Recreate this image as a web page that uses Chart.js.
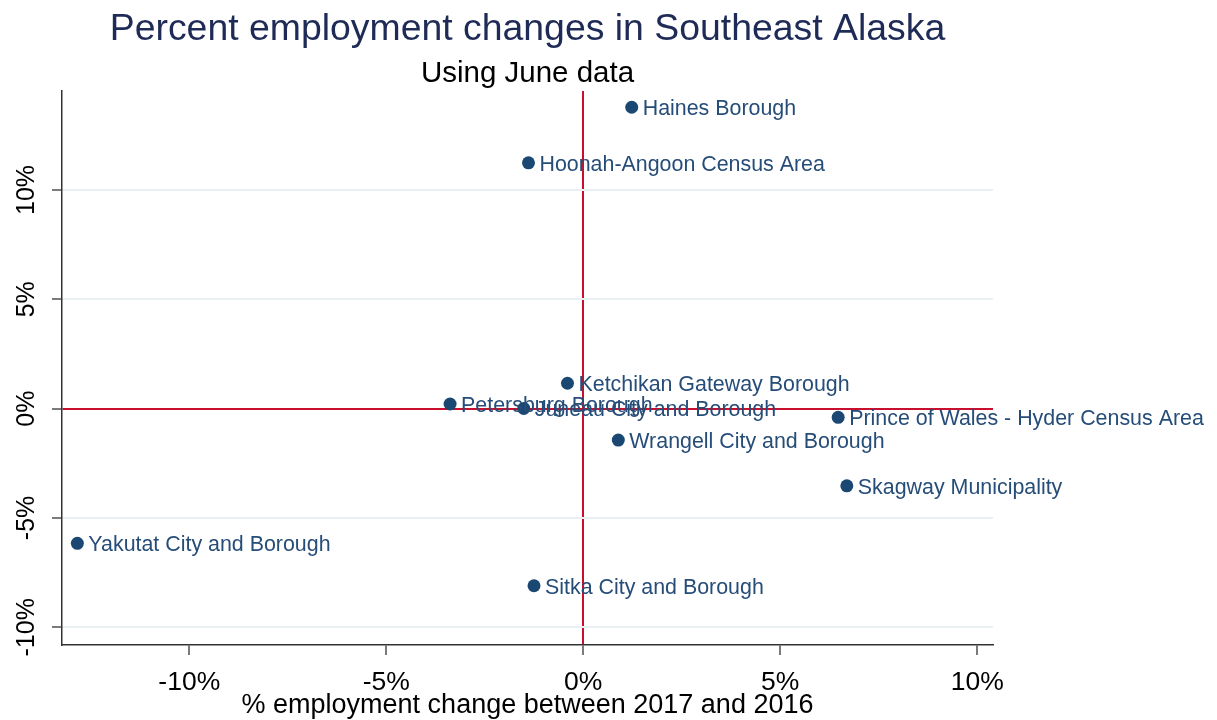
<!DOCTYPE html>
<html>
<head>
<meta charset="utf-8">
<script src="https://cdn.jsdelivr.net/npm/chart.js@4.4.1/dist/chart.umd.min.js"></script>
<style>
  body { margin: 0; background: #fff; }
</style>
</head>
<body>
<canvas id="chart" width="1217" height="720"></canvas>
<script>
// Southeast Alaska boroughs / census areas
var areas = ["Haines Borough", "Hoonah-Angoon Census Area", "Ketchikan Gateway Borough",
             "Petersburg Borough", "Juneau City and Borough", "Prince of Wales - Hyder Census Area",
             "Wrangell City and Borough", "Skagway Municipality", "Yakutat City and Borough",
             "Sitka City and Borough"];
// % change 2017 vs 2016 (x) and June data (y)
var pctChange = [1.23, -1.39, -0.40, -3.38, -1.51, 6.47, 0.89, 6.69, -12.84, -1.25];
var juneChange = [13.78, 11.24, 1.16, 0.21, 0.01, -0.40, -1.44, -3.53, -6.16, -8.10];
var xTicks = [-10, -5, 0, 5, 10];
var yTicks = [-10, -5, 0, 5, 10];

Chart.defaults.font.family = "'Liberation Sans', Arial, sans-serif";
Chart.defaults.color = "#000";

var red = "#c8102e";

// names next to each dot, allowed to run past the plot area
var pointNames = {
    id: "pointNames",
    afterDatasetsDraw: function(chart) {
        var ctx = chart.ctx;
        var meta = chart.getDatasetMeta(0);
        ctx.save();
        ctx.font = "21.4px 'Liberation Sans', Arial, sans-serif";
        ctx.fillStyle = "#264d78";
        ctx.textAlign = "left";
        ctx.textBaseline = "middle";
        meta.data.forEach(function(pt, i) {
            ctx.fillText(areas[i], pt.x + 11, pt.y + 2);
        });
        ctx.restore();
    }
};

// vertical tick labels on the y axis
var yLabels = {
    id: "yLabels",
    afterDraw: function(chart) {
        var ctx = chart.ctx;
        var scale = chart.scales.y;
        ctx.save();
        ctx.font = "25px 'Liberation Sans', Arial, sans-serif";
        ctx.fillStyle = "#000";
        ctx.textAlign = "center";
        ctx.textBaseline = "middle";
        yTicks.forEach(function(v) {
            var py = scale.getPixelForValue(v);
            ctx.save();
            ctx.translate(27, py);
            ctx.rotate(-Math.PI / 2);
            ctx.fillText(v + "%", 0, 0);
            ctx.restore();
        });
        ctx.restore();
    }
};

new Chart(document.getElementById("chart"), {
    type: "scatter",
    data: {
        datasets: [{
            data: pctChange.map(function(x, i) { return {x: x, y: juneChange[i]}; }),
            backgroundColor: "#1b4872",
            borderWidth: 0,
            pointRadius: 6.5,
            pointHoverRadius: 6.5
        }]
    },
    options: {
        responsive: false,
        animation: false,
        layout: {
            padding: {left: 0, right: 224, top: 0, bottom: 0}
        },
        plugins: {
            legend: { display: false },
            tooltip: { enabled: false },
            title: {
                display: true,
                text: "Percent employment changes in Southeast Alaska",
                color: "#1f2b57",
                fullSize: false,
                font: { size: 37.4, weight: "normal" },
                padding: { top: 7, bottom: 0 }
            },
            subtitle: {
                display: true,
                text: "Using June data",
                color: "#000",
                fullSize: false,
                font: { size: 29.5 },
                padding: { top: 3.8, bottom: 0 }
            }
        },
        scales: {
            x: {
                type: "linear",
                min: -13.23,
                max: 10.4,
                afterBuildTicks: function(scale) {
                    scale.ticks = xTicks.map(function(v) { return {value: v}; });
                },
                afterFit: function(scale) { scale.height = 75; },
                border: { display: true, color: "#333", width: 1.5 },
                grid: {
                    color: function(c) { return c.tick && c.tick.value === 0 ? red : "rgba(0,0,0,0)"; },
                    lineWidth: 2,
                    tickColor: "#333",
                    tickWidth: 1.3,
                    tickLength: 10
                },
                ticks: {
                    font: { size: 26.5 },
                    color: "#000",
                    padding: 12,
                    callback: function(v) { return v + "%"; }
                },
                title: {
                    display: true,
                    text: "% employment change between 2017 and 2016",
                    font: { size: 27 },
                    color: "#000",
                    padding: { top: 0, bottom: -1.5 }
                }
            },
            y: {
                type: "linear",
                min: -10.81,
                max: 14.52,
                afterBuildTicks: function(scale) {
                    scale.ticks = yTicks.map(function(v) { return {value: v}; });
                },
                afterFit: function(scale) { scale.width = 62; },
                border: { display: true, color: "#333", width: 1.5 },
                grid: {
                    color: function(c) { return c.tick && c.tick.value === 0 ? red : "#e8f0f1"; },
                    lineWidth: 2,
                    tickColor: "#333",
                    tickWidth: 1.3,
                    tickLength: 10
                },
                ticks: { display: false }
            }
        }
    },
    plugins: [pointNames, yLabels]
});
</script>
</body>
</html>
